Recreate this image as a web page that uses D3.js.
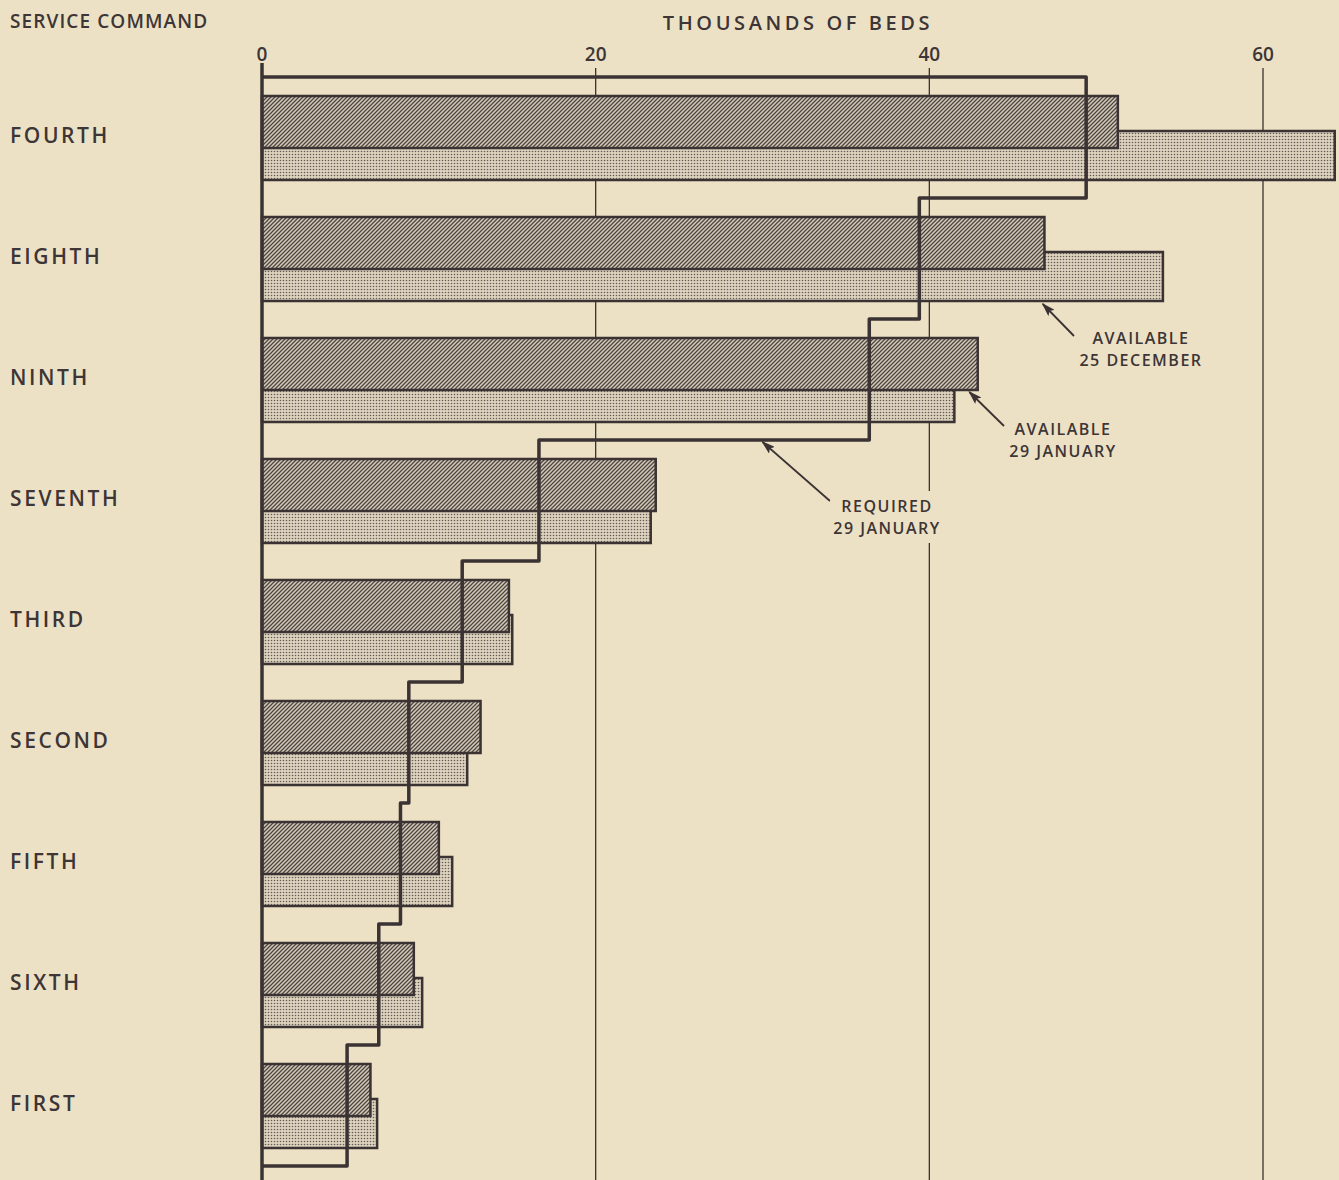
<!DOCTYPE html>
<html>
<head>
<meta charset="utf-8">
<script src="https://cdn.jsdelivr.net/npm/d3@7"></script>
<style>
  body { margin: 0; background: #ece1c5; }
  svg { display: block; }
  text { font-family: "Open Sans", "DejaVu Sans", sans-serif; font-weight: 600; fill: #3d3536; }
</style>
</head>
<body>
<script>
'use strict';

// service commands, top to bottom
let commands = ['FOURTH', 'EIGHTH', 'NINTH', 'SEVENTH', 'THIRD', 'SECOND', 'FIFTH', 'SIXTH', 'FIRST'];

// thousands of beds
let available29Jan = [51.3, 46.9, 42.9, 23.6, 14.8, 13.1, 10.6, 9.1, 6.5];
let available25Dec = [64.3, 54.0, 41.5, 23.3, 15.0, 12.3, 11.4, 9.6, 6.9];
let required29Jan  = [49.4, 39.4, 36.4, 16.6, 12.0, 8.8, 8.3, 7.0, 5.1];

let xTicks = [0, 20, 40, 60];

let svgWidth = 1339, svgHeight = 1180;
let ink = '#3a3233';
let paper = '#ece1c5';

let x = d3.scaleLinear().domain([0, 60]).range([262, 1263]);
let y = d3.scaleBand().domain(commands).range([77, 77 + 121 * commands.length]);

let svg = d3.select('body').append('svg')
  .attr('width', svgWidth)
  .attr('height', svgHeight);

// fill patterns
let defs = svg.append('defs');
let hatch = defs.append('pattern').attr('id', 'hatch')
  .attr('width', 4).attr('height', 4).attr('patternUnits', 'userSpaceOnUse');
hatch.append('rect').attr('width', 4).attr('height', 4).attr('fill', '#d6ccb6');
hatch.append('path').attr('d', 'M-1,1 l2,-2 M0,4 l4,-4 M3,5 l2,-2')
  .attr('stroke', '#4d4445').attr('stroke-width', 1.3);

let dots = defs.append('pattern').attr('id', 'dots')
  .attr('width', 3).attr('height', 3).attr('patternUnits', 'userSpaceOnUse');
dots.append('rect').attr('width', 3).attr('height', 3).attr('fill', '#ddd3bd');
dots.append('circle').attr('cx', 1.5).attr('cy', 1.5).attr('r', 0.8).attr('fill', '#655b5b');

defs.append('marker').attr('id', 'arrow')
  .attr('viewBox', '0 0 10 10').attr('refX', 9).attr('refY', 5)
  .attr('markerWidth', 14).attr('markerHeight', 9).attr('markerUnits', 'userSpaceOnUse')
  .attr('orient', 'auto')
  .attr('preserveAspectRatio', 'none')
  .append('path').attr('d', 'M0,0 L10,5 L0,10 L2,5 Z').attr('fill', ink);

// header texts
svg.append('text').attr('x', 10).attr('y', 28)
  .attr('font-size', 19).attr('letter-spacing', 1.1)
  .text('SERVICE COMMAND');
svg.append('text').attr('x', 798).attr('y', 30)
  .attr('text-anchor', 'middle').attr('font-size', 20).attr('letter-spacing', 3.6)
  .text('THOUSANDS OF BEDS');

// top axis labels + gridlines
svg.append('g').selectAll('text').data(xTicks).enter().append('text')
  .attr('x', d => x(d)).attr('y', 61)
  .attr('text-anchor', 'middle').attr('font-size', 19).attr('font-weight', 700)
  .text(d => d);

svg.append('g').selectAll('line').data(xTicks.slice(1)).enter().append('line')
  .attr('x1', d => x(d)).attr('x2', d => x(d))
  .attr('y1', 68).attr('y2', svgHeight)
  .attr('stroke', ink).attr('stroke-width', 1.3);

// category labels
svg.append('g').selectAll('text').data(commands).enter().append('text')
  .attr('x', 10).attr('y', d => y(d) + 66)
  .attr('font-size', 21).attr('letter-spacing', 2.6)
  .text(d => d);

// 25 December bars (behind)
svg.append('g').selectAll('rect').data(commands).enter().append('rect')
  .attr('x', x(0)).attr('y', d => y(d) + 54)
  .attr('width', (d, i) => x(available25Dec[i]) - x(0)).attr('height', 49)
  .attr('fill', 'url(#dots)').attr('stroke', ink).attr('stroke-width', 2.5);

// 29 January bars (front)
svg.append('g').selectAll('rect').data(commands).enter().append('rect')
  .attr('x', x(0)).attr('y', d => y(d) + 19)
  .attr('width', (d, i) => x(available29Jan[i]) - x(0)).attr('height', 52)
  .attr('fill', 'url(#hatch)').attr('stroke', ink).attr('stroke-width', 2.5);

// required step line
let stepPts = [[0, y(commands[0])]];
commands.forEach((c, i) => {
  stepPts.push([required29Jan[i], y(c)]);
  stepPts.push([required29Jan[i], y(c) + y.bandwidth()]);
});
stepPts.push([0, y(commands[commands.length - 1]) + y.bandwidth()]);

let lineGen = d3.line().x(d => x(d[0])).y(d => d[1]);
svg.append('path').datum(stepPts)
  .attr('d', lineGen)
  .attr('fill', 'none').attr('stroke', ink).attr('stroke-width', 3.5)
  .attr('stroke-linejoin', 'round');

// zero axis
svg.append('line')
  .attr('x1', x(0)).attr('x2', x(0)).attr('y1', 63).attr('y2', svgHeight)
  .attr('stroke', ink).attr('stroke-width', 3.5);

// annotations
let notes = [
  { lines: ['AVAILABLE', '25 DECEMBER'], tx: 1141, ty: 344, from: [1074, 336], to: [46.8, y('EIGHTH') + 106] },
  { lines: ['AVAILABLE', '29 JANUARY'], tx: 1063, ty: 435, from: [1004, 426], to: [42.4, y('NINTH') + 73] },
  { lines: ['REQUIRED', '29 JANUARY'], tx: 887, ty: 512, from: [830, 501], to: [30.0, y('SEVENTH') + 2] }
];

notes.forEach(n => {
  svg.append('line')
    .attr('x1', n.from[0]).attr('y1', n.from[1])
    .attr('x2', x(n.to[0])).attr('y2', n.to[1])
    .attr('stroke', ink).attr('stroke-width', 1.8)
    .attr('marker-end', 'url(#arrow)');
  let g = svg.append('g');
  let bg = g.append('rect').attr('fill', paper);
  n.lines.forEach((l, k) => {
    g.append('text').attr('x', n.tx).attr('y', n.ty + k * 22)
      .attr('text-anchor', 'middle').attr('font-size', 16).attr('letter-spacing', 1.5)
      .text(l);
  });
  let b = g.node().getBBox();
  bg.attr('x', b.x - 3).attr('y', b.y - 4).attr('width', b.width + 6).attr('height', b.height + 8);
});
</script>
</body>
</html>
